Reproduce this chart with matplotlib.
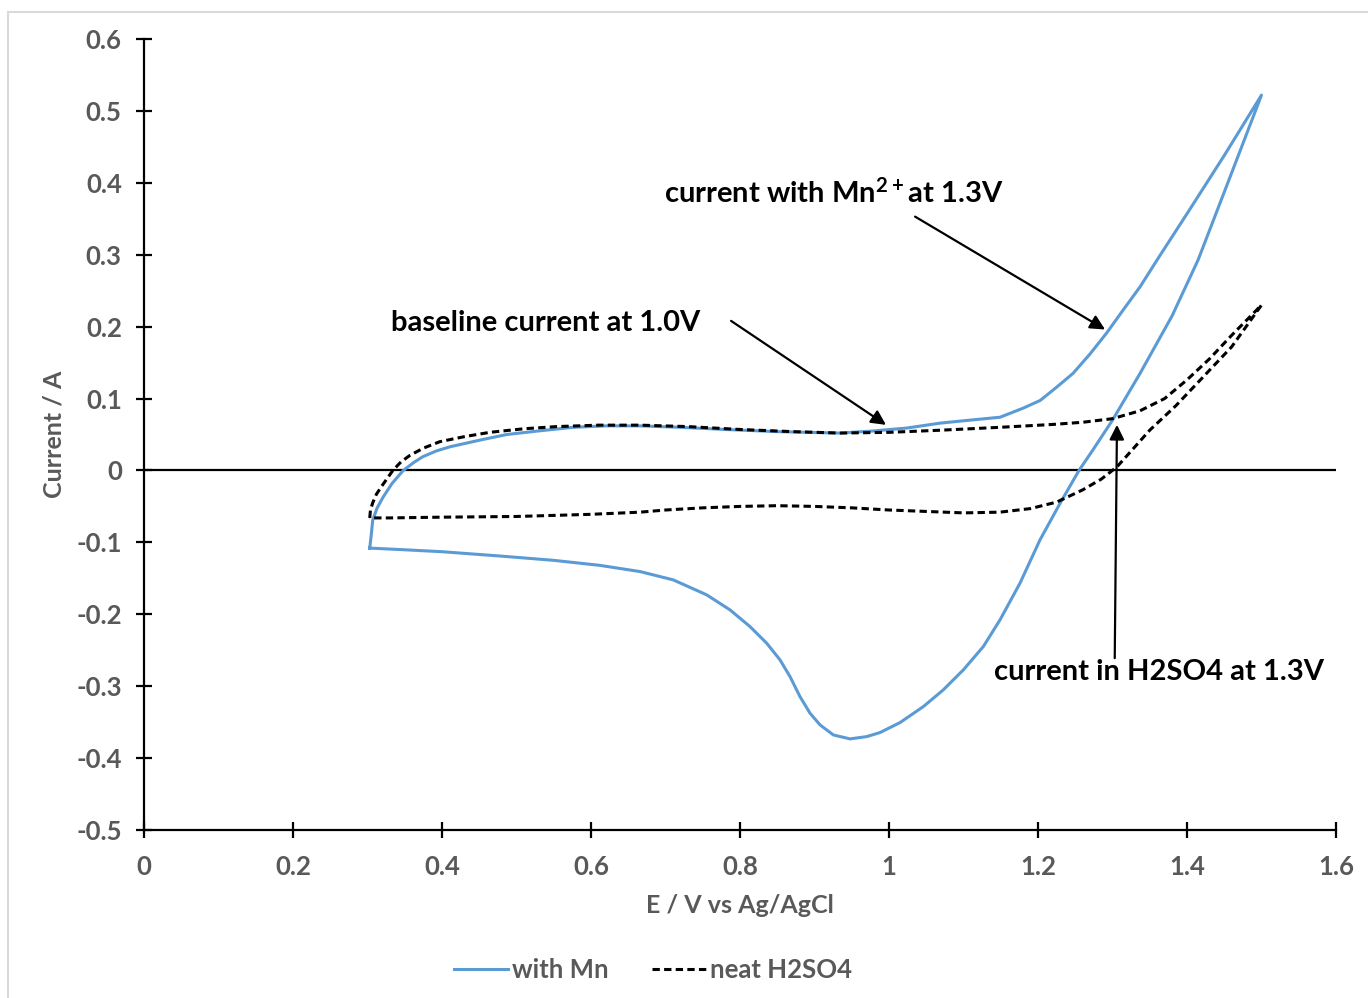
import matplotlib
matplotlib.use("Agg")
import matplotlib.pyplot as plt
from matplotlib.patches import Rectangle

plt.rcParams['font.family'] = ['Lato', 'DejaVu Sans']
plt.rcParams['mathtext.fontset'] = 'custom'
plt.rcParams['mathtext.rm'] = 'Lato:bold'
plt.rcParams['mathtext.bf'] = 'Lato:bold'
plt.rcParams['mathtext.default'] = 'bf'

# --- data: with Mn (blue) ---
mn_E = [0.303, 0.305, 0.307, 0.313, 0.321, 0.333, 0.348, 0.362, 0.374, 0.392, 0.411, 0.45, 0.487, 0.53,
        0.576, 0.62, 0.666, 0.72, 0.78, 0.85, 0.934, 0.98, 1.024, 1.0685, 1.113, 1.149, 1.180, 1.203, 1.225,
        1.247, 1.270, 1.292, 1.3145, 1.337, 1.36, 1.40, 1.45, 1.50,
        1.46, 1.415, 1.38, 1.337, 1.30, 1.274, 1.255, 1.23, 1.2027, 1.1758, 1.149, 1.1266, 1.0998, 1.0729,
        1.0461, 1.0148, 0.9879, 0.9701, 0.9477, 0.9253, 0.9074, 0.894, 0.8805, 0.8671, 0.8537, 0.8358,
        0.8134, 0.7866, 0.7553, 0.7105, 0.6658, 0.612, 0.55, 0.478, 0.40, 0.344, 0.303]
mn_I = [-0.108, -0.09, -0.069, -0.052, -0.037, -0.018, 0.000, 0.011, 0.019, 0.027, 0.033, 0.042, 0.050, 0.055,
        0.060, 0.062, 0.062, 0.060, 0.057, 0.054, 0.052, 0.055, 0.059, 0.0658, 0.0704, 0.074, 0.0866, 0.0974, 0.1158,
        0.135, 0.1622, 0.191, 0.2234, 0.2554, 0.293, 0.357, 0.438, 0.522,
        0.414, 0.293, 0.215, 0.135, 0.07, 0.029, 0.0, -0.045, -0.0965, -0.1568, -0.2078, -0.2449, -0.2773, -0.3051,
        -0.3284, -0.3506, -0.3645, -0.3701, -0.3733, -0.3678, -0.3538, -0.3376, -0.3145, -0.2866, -0.2634, -0.2402,
        -0.2171, -0.1939, -0.1730, -0.1522, -0.1406, -0.132, -0.125, -0.119, -0.113, -0.110, -0.108]

# --- data: neat H2SO4 (black dashed) ---
h2_E = [0.303, 0.304, 0.307, 0.312, 0.319, 0.334, 0.345, 0.357, 0.375, 0.397, 0.43, 0.464, 0.51, 0.554,
        0.61, 0.666, 0.73, 0.80, 0.87, 0.934, 1.0, 1.07, 1.149, 1.22, 1.26, 1.30, 1.337, 1.37, 1.40, 1.43,
        1.46, 1.50,
        1.46, 1.418, 1.385, 1.35, 1.325, 1.306, 1.285, 1.26, 1.225, 1.19, 1.149, 1.10, 1.05, 1.0, 0.95,
        0.90, 0.85, 0.80, 0.75, 0.70, 0.666, 0.60, 0.50, 0.397, 0.33, 0.303]
h2_I = [-0.066, -0.055, -0.045, -0.033, -0.022, 0.000, 0.012, 0.021, 0.031, 0.040, 0.047, 0.053, 0.058, 0.061,
        0.063, 0.063, 0.061, 0.057, 0.054, 0.052, 0.053, 0.056, 0.060, 0.064, 0.067, 0.072, 0.083, 0.100, 0.126, 0.155,
        0.188, 0.23,
        0.172, 0.126, 0.09, 0.056, 0.027, 0.005, -0.012, -0.027, -0.044, -0.053, -0.058, -0.059, -0.057, -0.055, -0.052,
        -0.050, -0.049, -0.050, -0.052, -0.055, -0.058, -0.061, -0.064, -0.065, -0.066, -0.066]

x_ticks = [0, 0.2, 0.4, 0.6, 0.8, 1.0, 1.2, 1.4, 1.6]
x_tick_labels = ['0', '0.2', '0.4', '0.6', '0.8', '1', '1.2', '1.4', '1.6']
y_ticks = [-0.5, -0.4, -0.3, -0.2, -0.1, 0, 0.1, 0.2, 0.3, 0.4, 0.5, 0.6]
y_tick_labels = ['-0.5', '-0.4', '-0.3', '-0.2', '-0.1', '0', '0.1', '0.2', '0.3', '0.4', '0.5', '0.6']

gray = '#595959'
blue = '#5B9BD5'

fig = plt.figure(figsize=(13.68, 9.98), dpi=100)
fig.patches.append(Rectangle((8/1368, -0.1), 1.2, 1 - 12/998 + 0.1, transform=fig.transFigure,
                             fill=False, edgecolor='#D9D9D9', lw=1.5))
ax = fig.add_axes([144/1368, 1 - 830/998, 1192/1368, 791/998])

ax.plot(mn_E, mn_I, color=blue, lw=2.2, label='with Mn', solid_joinstyle='round')
ax.plot(h2_E, h2_I, color='black', lw=2.2, ls=(0, (2.4, 1.4)), label='neat H2SO4')
ax.axhline(0, color='black', lw=1.6, zorder=1)

ax.set_xlim(0, 1.6)
ax.set_ylim(-0.5, 0.6)
ax.set_xticks(x_ticks)
ax.set_xticklabels(x_tick_labels)
ax.set_yticks(y_ticks)
ax.set_yticklabels(y_tick_labels)
for s in ['top', 'right']:
    ax.spines[s].set_visible(False)
for s in ['left', 'bottom']:
    ax.spines[s].set_linewidth(1.6)
    ax.spines[s].set_color('black')
ax.tick_params(direction='inout', length=12, width=1.6, colors='black', labelcolor=gray, labelsize=18.5)
ax.tick_params(axis='x', pad=12)
ax.tick_params(axis='y', pad=10)
for lab in ax.get_xticklabels() + ax.get_yticklabels():
    lab.set_fontweight('bold')

ax.set_xlabel('E / V vs Ag/AgCl', fontsize=18, color=gray, fontweight='bold')
ax.set_ylabel('Current / A', fontsize=18, color=gray, fontweight='bold')
ax.xaxis.set_label_coords(0.5, -0.081)
ax.yaxis.set_label_coords(-0.066, 0.5)

arrow_kw = dict(arrowstyle='-|>', color='black', lw=1.6, mutation_scale=22, shrinkA=0, shrinkB=0)
ax.annotate('', xy=(1.290, 0.196), xytext=(1.035, 0.353), arrowprops=arrow_kw)
ax.annotate('', xy=(0.996, 0.0634), xytext=(0.788, 0.208), arrowprops=arrow_kw)
ax.annotate('', xy=(1.306, 0.0635), xytext=(1.303, -0.261), arrowprops=arrow_kw)

tk = dict(fontsize=21, fontweight='bold', color='black', va='center', ha='left')
ax.text(0.698, 0.386, r'current with Mn$^{2+}$at 1.3V', **tk)
ax.text(0.332, 0.205, 'baseline current at 1.0V', **tk)
ax.text(1.141, -0.280, 'current in H2SO4 at 1.3V', **tk)

leg = fig.legend(loc='center', bbox_to_anchor=(653/1368, 1 - 970/998), ncol=2, frameon=False,
                 fontsize=18.5, handlelength=2.1, handletextpad=0.15, columnspacing=1.7)
for t in leg.get_texts():
    t.set_color(gray)
    t.set_fontweight('bold')

fig.savefig('out.png', dpi=100)
